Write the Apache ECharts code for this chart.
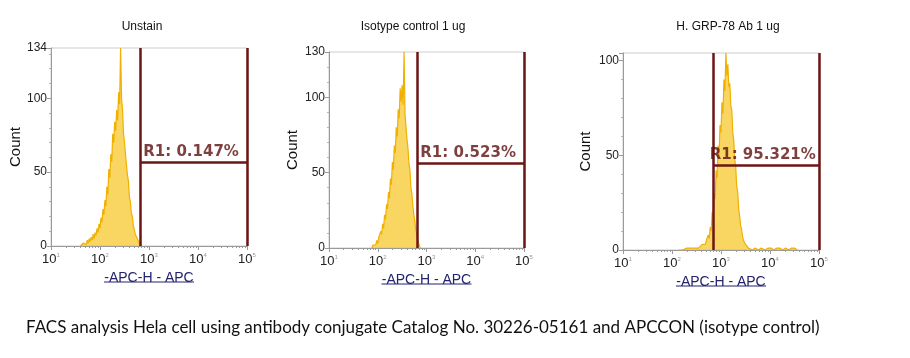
<!DOCTYPE html>
<html>
<head>
<meta charset="utf-8">
<script src="https://cdn.jsdelivr.net/npm/echarts@6/dist/echarts.min.js"></script>
<style>html,body{margin:0;padding:0;background:#fff;}#c{width:910px;height:358px;}</style>
</head>
<body>
<div id="c"></div>
<script>
// ---- data (x in log10 units of APC intensity, y = count) ----
const panelTitles = ['Unstain', 'Isotype control 1 ug', 'H. GRP-78 Ab 1 ug'];
const histUnstain = [
 [1.60,0],[1.62,1],[1.64,0],[1.66,2],[1.68,1],[1.70,3],[1.72,1],[1.74,4],[1.76,2],[1.78,5],
 [1.80,3],[1.82,6],[1.84,4],[1.86,8],[1.88,5],[1.90,9],[1.92,7],[1.94,12],[1.96,9],[1.98,15],
 [2.00,12],[2.02,19],[2.04,16],[2.06,25],[2.08,21],[2.10,31],[2.12,27],[2.14,40],[2.16,35],[2.18,52],
 [2.20,46],[2.22,62],[2.24,57],[2.26,76],[2.28,70],[2.30,84],[2.32,78],[2.34,92],[2.36,85],[2.38,104],
 [2.40,96],[2.42,134],[2.44,100],[2.46,92],[2.48,76],[2.50,70],[2.52,62],[2.54,55],[2.56,48],[2.58,44],
 [2.60,33],[2.62,30],[2.64,22],[2.66,20],[2.68,14],[2.70,13],[2.72,8],[2.74,9],[2.76,5],[2.78,4],
 [2.80,2],[2.82,1],[2.84,0]
];
const histIsotype = [
 [1.88,0],[1.90,2],[1.92,1],[1.94,3],[1.96,2],[1.98,5],[2.00,3],[2.02,7],[2.04,6],[2.06,11],
 [2.08,9],[2.10,16],[2.12,13],[2.14,22],[2.16,19],[2.18,29],[2.20,26],[2.22,37],[2.24,33],[2.26,46],
 [2.28,42],[2.30,57],[2.32,52],[2.34,68],[2.36,63],[2.38,80],[2.40,74],[2.42,92],[2.44,86],[2.46,106],
 [2.48,97],[2.50,108],[2.52,95],[2.54,130],[2.56,88],[2.58,80],[2.60,72],[2.62,66],[2.64,56],[2.66,52],
 [2.68,40],[2.70,36],[2.72,28],[2.74,22],[2.76,18],[2.78,12],[2.80,9],[2.82,5],[2.84,3],[2.86,1],[2.88,0]
];
const histGRP78 = [
 [2.14,0],[2.18,1],[2.22,0],[2.26,1],[2.30,1],[2.34,0],[2.38,1],[2.42,2],[2.46,1],[2.50,2],
 [2.54,1],[2.58,2],[2.62,3],[2.64,2],[2.66,4],[2.68,3],[2.70,5],[2.72,4],[2.74,8],[2.76,6],
 [2.78,12],[2.80,10],[2.82,20],[2.84,17],[2.86,30],[2.88,27],[2.90,42],[2.92,38],[2.94,55],[2.96,50],
 [2.98,66],[3.00,62],[3.02,78],[3.04,72],[3.06,90],[3.08,84],[3.10,104],[3.12,92],[3.14,98],[3.16,86],
 [3.18,88],[3.20,76],[3.22,74],[3.24,62],[3.26,58],[3.28,48],[3.30,44],[3.32,34],[3.34,31],[3.36,22],
 [3.38,18],[3.40,13],[3.42,11],[3.44,7],[3.46,5],[3.48,4],[3.50,3],[3.52,2],[3.56,1],[3.60,2],
 [3.64,0],[3.70,1],[3.76,0],[3.82,1],[3.90,0],[3.96,1],[4.02,1],[4.08,0],[4.14,1],[4.20,1],
 [4.26,0],[4.32,1],[4.38,0],[4.44,1],[4.50,1],[4.56,0]
];
const histograms = [histUnstain, histIsotype, histGRP78];
const yMax = [134, 130, 104];
const yShowMax = [true, true, false];
const gateLow = [2.83, 2.82, 2.84];
const gateHigh = [5, 5, 5];
const gateLevel = [57, 56, 45];
const gateLabels = ['R1: 0.147%', 'R1: 0.523%', 'R1: 95.321%'];
const xDecades = [1, 2, 3, 4, 5];
const minorMultipliers = [2, 3, 4, 5, 6, 7, 8, 9];
const xAxisLabel = '-APC-H - APC';
const yAxisLabel = 'Count';
const caption = 'FACS analysis Hela cell using antibody conjugate Catalog No. 30226-05161 and APCCON (isotype control)';

// ---- layout / style ----
const layout = [
  {left: 51, top: 48, width: 196, height: 198, titleX: 137, nameGap: 28, labelDx: 3},
  {left: 329, top: 52, width: 195, height: 196, titleX: 408, nameGap: 29, labelDx: 3},
  {left: 623, top: 53, width: 196, height: 197, titleX: 723, nameGap: 30, labelDx: -3}
];
const FONT = "'Liberation Sans', Arial, sans-serif";
const HIST = '#f0b000';
const GATE = '#6c1515';
const LABELCOL = '#5e0f0f';
const AXIS = '#9a9a9a';
const NAMECOL = '#23236e';

const minorTickValues = [];
for (let d = 0; d < xDecades.length - 1; d++) {
  minorMultipliers.forEach(m => minorTickValues.push(xDecades[d] + Math.log10(m)));
}

const grids = [], xAxes = [], yAxes = [], series = [], titles = [], graphics = [];
layout.forEach((L, i) => {
  grids.push({left: L.left, top: L.top, width: L.width, height: L.height,
    show: true, borderColor: '#cdcdcd', borderWidth: 1});
  xAxes.push({
    gridIndex: i, type: 'value', min: xDecades[0], max: xDecades[xDecades.length - 1], interval: 1,
    axisLine: {show: true, lineStyle: {color: AXIS, width: 1}},
    axisTick: {show: true, length: 4, lineStyle: {color: AXIS}},
    splitLine: {show: false},
    axisLabel: {
      margin: 6, fontFamily: FONT, color: '#222',
      formatter: v => '{b|10}{s|' + v + '}',
      rich: {
        b: {fontSize: 13, fontFamily: FONT, color: '#222', verticalAlign: 'bottom'},
        s: {fontSize: 6, fontFamily: FONT, color: '#999', verticalAlign: 'top', padding: [0, 0, 8, 0]}
      }
    },
    name: xAxisLabel, nameLocation: 'middle', nameGap: 23,
    nameTextStyle: {fontFamily: FONT, fontSize: 14, color: NAMECOL, verticalAlign: 'top', lineHeight: 14}
  });
  xAxes.push({
    gridIndex: i, type: 'value', min: xDecades[0], max: xDecades[xDecades.length - 1], position: 'bottom',
    axisLine: {show: false}, axisLabel: {show: false}, splitLine: {show: false},
    axisTick: {show: true, length: 2, customValues: minorTickValues, lineStyle: {color: AXIS}}
  });
  yAxes.push({
    gridIndex: i, type: 'value', min: 0, max: yMax[i], interval: 50,
    axisLine: {show: true, lineStyle: {color: AXIS, width: 1}},
    axisTick: {show: true, length: 4, lineStyle: {color: AXIS}},
    minorTick: {show: true, splitNumber: 5, length: 2, lineStyle: {color: '#b5b5b5'}},
    splitLine: {show: false},
    axisLabel: {margin: 4, fontFamily: FONT, fontSize: 12, color: '#222',
      showMaxLabel: yShowMax[i],
      formatter: v => (v % 50 === 0 || yShowMax[i]) ? String(v) : ''},
    name: yAxisLabel, nameLocation: 'middle', nameGap: L.nameGap, nameRotate: 90,
    nameTextStyle: {fontFamily: FONT, fontSize: 15, color: '#111'}
  });
  series.push({
    type: 'line', xAxisIndex: 2 * i, yAxisIndex: i, data: histograms[i],
    symbol: 'none', silent: true, animation: false,
    lineStyle: {color: HIST, width: 1.2},
    areaStyle: {color: 'rgba(245,186,0,0.88)'},
    z: 2,
    markLine: {
      silent: true, symbol: 'none', animation: false,
      lineStyle: {color: GATE, width: 2.5, type: 'solid'},
      label: {show: false},
      data: [
        [{coord: [gateLow[i], 0]}, {coord: [gateLow[i], yMax[i]]}],
        [{coord: [gateHigh[i], 0]}, {coord: [gateHigh[i], yMax[i]]}],
        [{coord: [gateLow[i], gateLevel[i]]}, {coord: [gateHigh[i], gateLevel[i]]}]
      ]
    }
  });
  series.push({
    type: 'scatter', xAxisIndex: 2 * i, yAxisIndex: i, data: [[gateLow[i], gateLevel[i]]],
    symbolSize: 1, itemStyle: {color: 'rgba(0,0,0,0)'}, silent: true, animation: false, z: 5,
    label: {show: true, position: [L.labelDx, -2], align: 'left', verticalAlign: 'bottom',
      formatter: gateLabels[i], fontFamily: "'DejaVu Sans', Verdana, sans-serif",
      fontWeight: 'bold', fontSize: 15, color: LABELCOL}
  });
  titles.push({text: panelTitles[i], left: L.titleX, top: 16, textAlign: 'center',
    textStyle: {fontFamily: FONT, fontSize: 12, fontWeight: 'normal', color: '#111'}});
  // underline of the x axis title (text decoration)
  const cx = L.left + L.width / 2, uy = L.top + L.height + 36;
  graphics.push({type: 'line', shape: {x1: cx - 45, y1: uy, x2: cx + 45, y2: uy},
    style: {stroke: NAMECOL, lineWidth: 1}, silent: true});
});
titles.push({text: caption, left: 21, top: 314,
  textStyle: {fontFamily: "Lato, 'Open Sans', sans-serif", fontSize: 17, fontWeight: 'normal', color: '#111'}});

const chart = echarts.init(document.getElementById('c'), null, {renderer: 'canvas'});
chart.setOption({
  animation: false, backgroundColor: '#ffffff',
  title: titles, grid: grids, xAxis: xAxes, yAxis: yAxes, series: series, graphic: graphics
});
</script>
</body>
</html>
